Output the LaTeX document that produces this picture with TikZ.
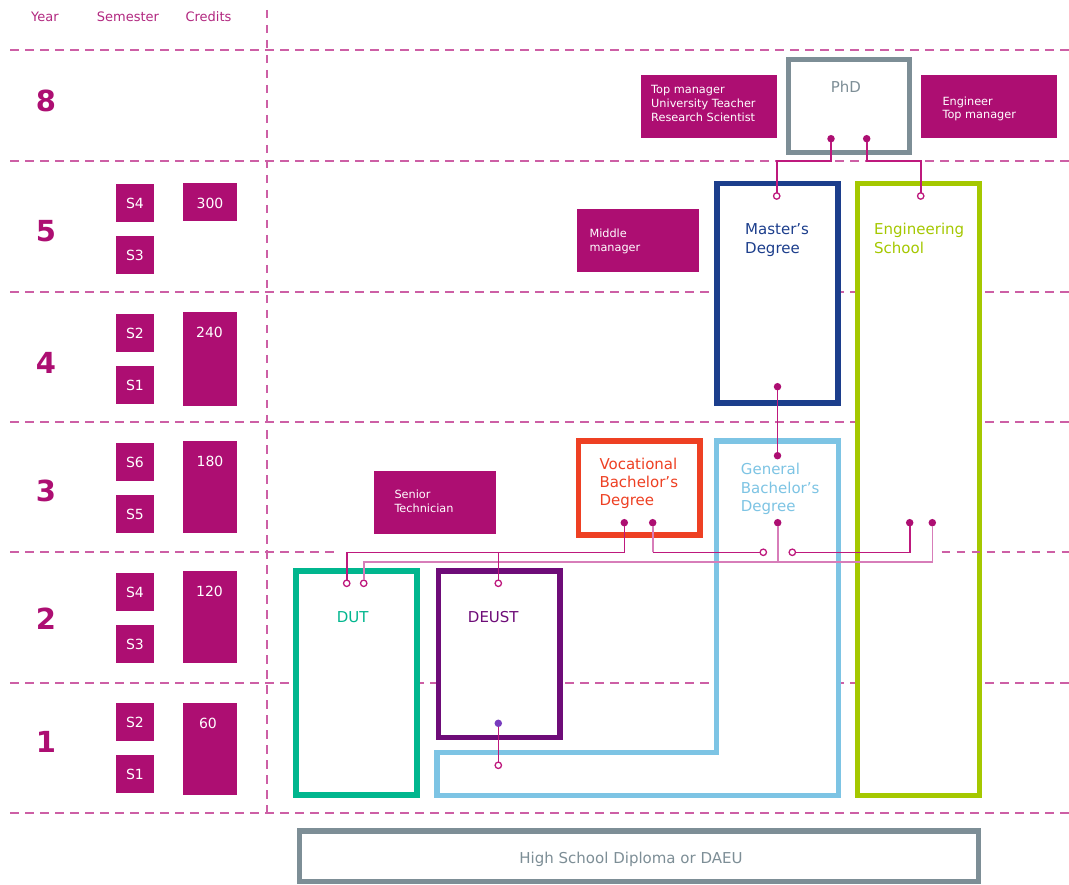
\documentclass[tikz,border=0pt]{standalone}
\usepackage{fontspec}
\setmainfont{DejaVu Sans}
\usetikzlibrary{fit}
\definecolor{magc}{RGB}{173,14,114}
\definecolor{hdrc}{RGB}{178,40,128}
\definecolor{gridc}{RGB}{205,95,165}
\definecolor{connd}{RGB}{190,25,125}
\definecolor{connl}{RGB}{215,125,185}
\definecolor{dutc}{RGB}{0,182,142}
\definecolor{deustc}{RGB}{110,12,120}
\definecolor{gbc}{RGB}{125,196,228}
\definecolor{msc}{RGB}{28,62,140}
\definecolor{engc}{RGB}{165,200,0}
\definecolor{vocc}{RGB}{238,64,35}
\definecolor{greyc}{RGB}{125,142,150}
\definecolor{dotp}{RGB}{120,60,190}
\tikzset{
  gridline/.style={draw=gridc, line width=1.7pt, dash pattern=on 8.5pt off 6.5pt},
  frame/.style={draw=#1, fill=white, line width=5.4pt, inner sep=0pt, outer sep=0pt},
  pinkbox/.style={fill=magc, inner sep=0pt, outer sep=0pt},
  dotn/.style={circle, fill=magc, inner sep=0pt, outer sep=0pt, minimum size=7.5pt},
  ringn/.style={circle, draw=connd, fill=white, line width=1.3pt, inner sep=0pt, outer sep=0pt, minimum size=6.4pt},
  conn/.style={draw=connd, line width=1.6pt},
  connlt/.style={draw=connl, line width=1.6pt},
  txtL/.style={anchor=north west, inner sep=0pt, align=left, font=\fontsize{15}{18.6}\selectfont},
  txtC/.style={anchor=base, inner sep=0pt, font=\fontsize{15}{18}\selectfont},
  txtS/.style={anchor=north west, inner sep=0pt, align=left, text=white, font=\fontsize{11.3}{14}\selectfont},
  hdr/.style={anchor=base, inner sep=0pt, text=hdrc, font=\fontsize{13}{15}\selectfont},
  yr/.style={anchor=center, inner sep=0pt, text=magc, font=\fontsize{29}{30}\selectfont\bfseries},
  semt/.style={anchor=center, inner sep=0pt, text=white, font=\fontsize{14}{16}\selectfont},
}
\begin{document}
\begin{tikzpicture}[x=1pt,y=-1pt]
\useasboundingbox (0,0) rectangle (1069,885);
\fill[white] (0,0) rectangle (1069,885);

% grid
\foreach \yy in {50,161,291.7,421.7,683.3,812.7}
  \draw[gridline] (10,\yy) -- (1069,\yy);
\draw[gridline] (10,552.3) -- (337,552.3);
\draw[gridline] (266.7,10) -- (266.7,813);

% header
\node[hdr] (hy) at (45,22) {Year};
\node[hdr] (hs) at (128,22) {Semester};
\node[hdr] (hc) at (208.5,22) {Credits};

% year numbers
\node[yr] (y8) at (46,101) {8};
\node[yr] (y5) at (46,231) {5};
\node[yr] (y4) at (46,363) {4};
\node[yr] (y3) at (46,491) {3};
\node[yr] (y2) at (46,619) {2};
\node[yr] (y1) at (46,741.5) {1};

% semester boxes
\foreach \nm/\lab/\ya/\yb in {s54/S4/184/222, s53/S3/236/274, s42/S2/314/352, s41/S1/366/404,
  s36/S6/443/481, s35/S5/495/533, s24/S4/573/611, s23/S3/625/663, s12/S2/703/741, s11/S1/755/793}{
  \node[pinkbox, fit={(116,\ya) (154,\yb)}] (\nm) {};
  \node[semt] (\nm t) at (\nm.center) {\lab};
}
% credit boxes
\foreach \nm/\lab/\ya/\yb/\xc in {c300/300/183/221/210, c240/240/312/406/209.5, c180/180/441/533/210,
  c120/120/571/663/209.5, c60/60/703/795/208}{
  \node[pinkbox, fit={(183,\ya) (237,\yb)}] (\nm) {};
  \node[semt] (\nm t) at (\xc,\ya+20.5) {\lab};
}

% job boxes
\node[pinkbox, fit={(641,75) (777,138)}] (jtop) {};
\node[txtS] (jtopt) at (651,85) {Top manager\\University Teacher\\Research Scientist};
\node[pinkbox, fit={(921,75) (1057,138)}] (jeng) {};
\node[txtS, font=\fontsize{11.3}{13.5}\selectfont] (jengt) at (942.3,96.5) {Engineer\\Top manager};
\node[pinkbox, fit={(577,209) (698.7,271.7)}] (jmid) {};
\node[txtS, font=\fontsize{11.3}{14.6}\selectfont] (jmidt) at (589.3,228.5) {Middle\\manager};
\node[pinkbox, fit={(374,471) (496,533.7)}] (jsen) {};
\node[txtS, font=\fontsize{11.3}{14.3}\selectfont] (jsent) at (394.3,489.5) {Senior\\Technician};

% diploma frames
\node[frame=greyc, fit={(788.2,59.8) (909.2,152.8)}] (phd) {};
\node[txtC, text=greyc] (phdt) at (845.8,92.3) {PhD};
\node[frame=msc, fit={(716.8,183.5) (837.8,403)}] (ms) {};
\node[txtL, text=msc, font=\fontsize{15}{19}\selectfont] (mst) at (745,223) {Master’s\\Degree};
\node[frame=engc, fit={(857.5,183.5) (979.2,795.5)}] (eng) {};
\node[txtL, text=engc, font=\fontsize{15}{19}\selectfont] (engt) at (874,223) {Engineering\\School};
\draw[gbc, line width=5.4pt, fill=white, line join=miter]
  (716.7,441) -- (838.3,441) -- (838.3,795.2) -- (436.8,795.2) -- (436.8,752.5) -- (716.7,752.5) -- cycle;
\node[txtL, text=gbc] (gbt) at (740.7,463) {General\\Bachelor’s\\Degree};
\node[frame=vocc, fit={(578.5,440.8) (699.8,534.8)}] (voc) {};
\node[txtL, text=vocc, font=\fontsize{15}{18.3}\selectfont] (voct) at (599.3,457.5) {Vocational\\Bachelor’s\\Degree};
\node[frame=dutc, fit={(295.8,570.8) (417,794.8)}] (dut) {};
\node[txtC, text=dutc] (dutt) at (352.7,622.3) {DUT};
\node[frame=deustc, fit={(438.2,570.8) (559.8,737.5)}] (deust) {};
\node[txtC, text=deustc] (deustt) at (493.3,622.3) {DEUST};
\node[frame=greyc, fit={(299.6,830.8) (978.3,881.5)}] (hs) {};
\node[txtC, text=greyc] (hst) at (631,863) {High School Diploma or DAEU};

\draw[gridline] (941.7,552.3) -- (1069,552.3);

% connector end points
\node[dotn] (phdA) at (831,138.7) {};
\node[dotn] (phdB) at (866.7,138.7) {};
\node[ringn] (msT) at (776.7,196) {};
\node[ringn] (engT) at (920.7,196) {};
\node[dotn] (msB) at (777.5,386.7) {};
\node[dotn] (gbT) at (777.5,455.7) {};
\node[dotn] (vocA) at (624.3,522.7) {};
\node[dotn] (vocB) at (652.7,522.7) {};
\node[dotn] (gbA) at (777.7,522.7) {};
\node[dotn] (engA) at (909.7,522.7) {};
\node[dotn] (engB) at (932.3,522.7) {};
\node[ringn] (midL) at (763.3,552.3) {};
\node[ringn] (midR) at (792.3,552.3) {};
\node[ringn] (dutA) at (346.7,583.3) {};
\node[ringn] (dutB) at (363.7,583.3) {};
\node[ringn] (deustT) at (498.3,583.3) {};
\node[dotn, fill=dotp] (deustB) at (498.3,723.3) {};
\node[ringn] (gbL) at (498.3,765.3) {};

% connectors
\draw[conn] (phdA) -- (phdA |- 0,161) -| (msT);
\draw[conn] (phdB) -- (phdB |- 0,161) -| (engT);
\draw[conn] (msB) -- (gbT);
\draw[connlt] (dutB) |- (engB |- 0,561.7) -- (engB);
\draw[connlt] (gbA) -- (gbA |- 0,561.7);
\draw[conn] (vocA) |- (dutA |- 0,552.3) -- (dutA);
\draw[conn] (deustT |- 0,552.3) -- (deustT);
\draw[connlt] (vocB) -- (vocB |- 0,552.3);
\draw[conn] (vocB |- 0,552.3) -- (midL);
\draw[conn] (engA) |- (midR);
\draw[conn] (deustB) -- (gbL);
\end{tikzpicture}
\end{document}
